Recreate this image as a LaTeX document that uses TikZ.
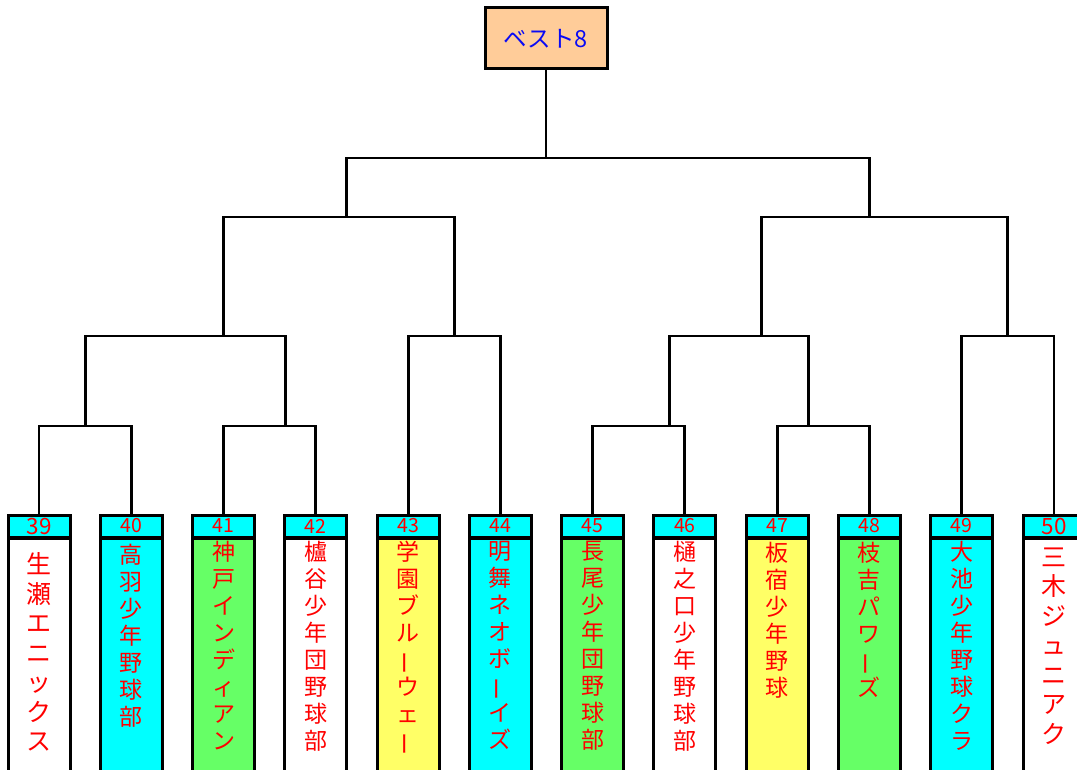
\documentclass[tikz,border=0pt]{standalone}
\usepackage{fontspec}
\usepackage{graphicx}
\newfontfamily\jp{Noto Sans CJK JP}
\definecolor{tcyan}{HTML}{00FFFF}
\definecolor{tgreen}{HTML}{66FF66}
\definecolor{tyellow}{HTML}{FFFF66}
\definecolor{tpeach}{HTML}{FFCC99}
\definecolor{tred}{HTML}{FF0000}
\definecolor{tblue}{HTML}{0A0AF5}
\newcommand{\vbar}{\rotatebox[origin=c]{90}{ー}}
\begin{document}
\begin{tikzpicture}[x=1pt,y=-1pt,
  hdr/.style={draw=black, line width=3pt, fill=tcyan, minimum width=62pt, minimum height=22pt, inner sep=0pt, text=tred, font={\jp\fontsize{19.5}{19.5}\selectfont}},
  hdrbig/.style={hdr, font={\jp\fontsize{22.5}{22.5}\selectfont}},
  body/.style={draw=black, line width=3pt, minimum width=62pt, minimum height=260pt, anchor=north, inner sep=0pt},
  vtext/.style={anchor=north, align=center, inner sep=0pt, text=tred, font={\jp\fontsize{23}{27}\selectfont}},
  vbig/.style={vtext, font={\jp\fontsize{25}{29.5}\selectfont}},
  link/.style={draw=black, line width=2.9pt, line cap=rect}]
\useasboundingbox (0,0) rectangle (1077,770);
\clip (0,0) rectangle (1077,770);

% top box
\node[draw=black, line width=3pt, fill=tpeach, minimum width=122pt, minimum height=61pt, inner sep=0pt, text=tblue, font={\jp\fontsize{23.5}{23.5}\selectfont}] (best) at (546,38.5) {ベスト8};

% bodies
\node[body, fill=white]   (b39) at (39.0,537) {};
\node[body, fill=tcyan]   (b40) at (131.3,537) {};
\node[body, fill=tgreen]  (b41) at (223.5,537) {};
\node[body, fill=white]   (b42) at (315.8,537) {};
\node[body, fill=tyellow] (b43) at (408.1,537) {};
\node[body, fill=tcyan]   (b44) at (500.4,537) {};
\node[body, fill=tgreen]  (b45) at (592.6,537) {};
\node[body, fill=white]   (b46) at (684.9,537) {};
\node[body, fill=tyellow] (b47) at (777.2,537) {};
\node[body, fill=tgreen]  (b48) at (869.4,537) {};
\node[body, fill=tcyan]   (b49) at (961.7,537) {};
\node[body, fill=white]   (b50) at (1054.0,537) {};

% headers
\node[hdrbig] (h39) at (39.0,526) {39};
\node[hdr] (h40) at (131.3,526) {40};
\node[hdr] (h41) at (223.5,526) {41};
\node[hdr] (h42) at (315.8,526) {42};
\node[hdr] (h43) at (408.1,526) {43};
\node[hdr] (h44) at (500.4,526) {44};
\node[hdr] (h45) at (592.6,526) {45};
\node[hdr] (h46) at (684.9,526) {46};
\node[hdr] (h47) at (777.2,526) {47};
\node[hdr] (h48) at (869.4,526) {48};
\node[hdr] (h49) at (961.7,526) {49};
\node[hdrbig] (h50) at (1054.0,526) {50};

% names
\node[vbig]  (t39) at (39.0,552.5) {生\\瀬\\エ\\ニ\\ッ\\ク\\ス};
\node[vtext] (t40) at (131.3,543.5) {高\\羽\\少\\年\\野\\球\\部};
\node[vtext] (t41) at (223.5,540.5) {神\\戸\\イ\\ン\\デ\\ィ\\ア\\ン};
\node[vtext] (t42) at (315.8,540.5) {櫨\\谷\\少\\年\\団\\野\\球\\部};
\node[vtext] (t43) at (408.1,540.5) {学\\園\\ブ\\ル\\\vbar\\ウ\\ェ\\\vbar};
\node[vtext] (t44) at (500.4,540.5) {明\\舞\\ネ\\オ\\ボ\\\vbar\\イ\\ズ};
\node[vtext] (t45) at (592.6,540.5) {長\\尾\\少\\年\\団\\野\\球\\部};
\node[vtext] (t46) at (684.9,540.5) {樋\\之\\口\\少\\年\\野\\球\\部};
\node[vtext] (t47) at (777.2,541.5) {板\\宿\\少\\年\\野\\球};
\node[vtext] (t48) at (869.4,541.5) {枝\\吉\\パ\\ワ\\\vbar\\ズ};
\node[vtext] (t49) at (961.7,540.5) {大\\池\\少\\年\\野\\球\\ク\\ラ};
\node[vbig]  (t50) at (1054.0,547.5) {三\\木\\ジ\\ュ\\ニ\\ア\\ク};

% junctions
\coordinate (j1) at (85.4,426);  \coordinate (k1) at (85.4,336);
\coordinate (j2) at (285.5,426); \coordinate (k2) at (285.5,336);
\coordinate (m1) at (223.8,336); \coordinate (n1) at (223.8,217);
\coordinate (m2) at (454.5,336); \coordinate (n2) at (454.5,217);
\coordinate (p1) at (346.8,217); \coordinate (q1) at (346.8,158);

\coordinate (j3) at (669.6,426); \coordinate (k3) at (669.6,336);
\coordinate (j4) at (808.4,426); \coordinate (k4) at (808.4,336);
\coordinate (m3) at (761.5,336); \coordinate (n3) at (761.5,217);
\coordinate (m4) at (1007.4,336); \coordinate (n4) at (1007.4,217);
\coordinate (p2) at (869.3,217); \coordinate (q2) at (869.3,158);
\coordinate (r) at (546.4,158);

% left half
\draw[link] (h39.north) |- (j1) -| (h40.north);
\draw[link] (j1) -- (k1);
\draw[link] (h41.north) |- (j2) -| (h42.north);
\draw[link] (j2) -- (k2);
\draw[link] (k1) -- (k2);
\draw[link] (m1) -- (n1);
\draw[link] (h43.north) |- (m2) -| (h44.north);
\draw[link] (m2) -- (n2);
\draw[link] (n1) -- (n2);
\draw[link] (p1) -- (q1);

% right half
\draw[link] (h45.north) |- (j3) -| (h46.north);
\draw[link] (j3) -- (k3);
\draw[link] (h47.north) |- (j4) -| (h48.north);
\draw[link] (j4) -- (k4);
\draw[link] (k3) -- (k4);
\draw[link] (m3) -- (n3);
\draw[link] (h49.north) |- (m4) -| (h50.north);
\draw[link] (m4) -- (n4);
\draw[link] (n3) -- (n4);
\draw[link] (p2) -- (q2);

% final
\draw[link] (q1) -- (q2);
\draw[link] (best.south) -- (best.south |- r);
\end{tikzpicture}
\end{document}
